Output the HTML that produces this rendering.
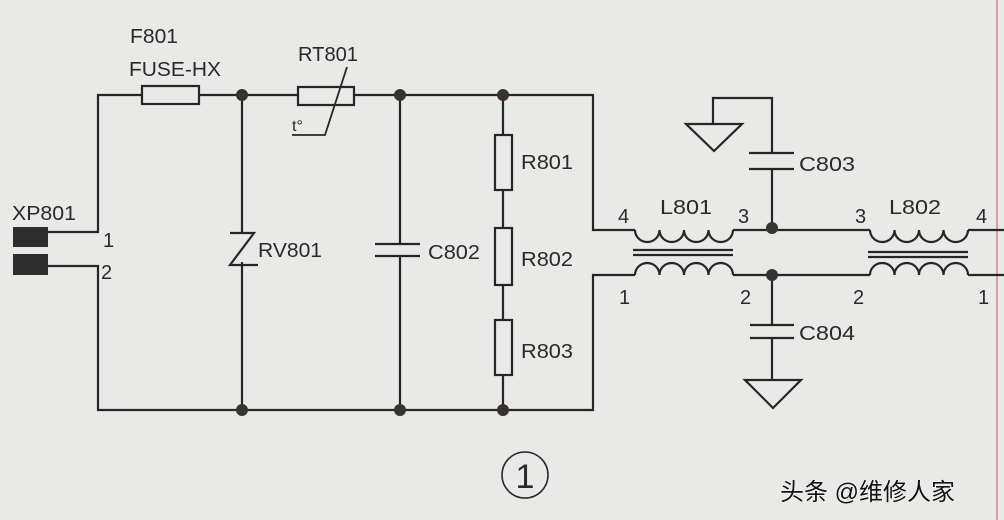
<!DOCTYPE html>
<html><head><meta charset="utf-8"><style>
html,body{margin:0;padding:0;background:#e9e9e7;}
svg{display:block}
text{font-family:"Liberation Sans","Noto Sans CJK SC",sans-serif;fill:#2a2a2a}
</style></head><body>
<svg width="1004" height="520" viewBox="0 0 1004 520" xmlns="http://www.w3.org/2000/svg">
<rect width="1004" height="520" fill="#e9e9e7"/>
<line x1="997" y1="0" x2="997" y2="520" stroke="#d9a0a0" stroke-width="2"/>
<g stroke="#262626" stroke-width="2.2" fill="none">
<polyline points="48,232 98,232 98,95 593,95 593,230 635,230"/>
<polyline points="48,266 98,266 98,410 593,410 593,275 635,275"/>
<rect x="142" y="86" width="57" height="18" fill="#e9e9e7"/>
<rect x="298" y="87" width="56" height="18" fill="#e9e9e7"/>
<polyline points="347,67 325,135 292,135" stroke-width="1.8"/>
<line x1="242" y1="95" x2="242" y2="233"/>
<line x1="242" y1="262" x2="242" y2="410"/>
<polyline points="230,233 254,233 230,265 258,265"/>
<line x1="400" y1="95" x2="400" y2="244"/>
<line x1="400" y1="256" x2="400" y2="410"/>
<line x1="375" y1="244" x2="420" y2="244"/>
<line x1="375" y1="256" x2="420" y2="256"/>
<line x1="503" y1="95" x2="503" y2="410"/>
<rect x="495" y="135" width="17" height="55" fill="#e9e9e7"/>
<rect x="495" y="228" width="17" height="57" fill="#e9e9e7"/>
<rect x="495" y="320" width="17" height="55" fill="#e9e9e7"/>
<path d="M635,230 a12.25,12 0 0 0 24.5,0 a12.25,12 0 0 0 24.5,0 a12.25,12 0 0 0 24.5,0 a12.25,12 0 0 0 24.5,0"/>
<path d="M635,275 a12.25,12 0 0 1 24.5,0 a12.25,12 0 0 1 24.5,0 a12.25,12 0 0 1 24.5,0 a12.25,12 0 0 1 24.5,0"/>
<line x1="633" y1="250" x2="733" y2="250"/>
<line x1="633" y1="255" x2="733" y2="255"/>
<line x1="733" y1="230" x2="870" y2="230"/>
<line x1="733" y1="275" x2="870" y2="275"/>
<path d="M870,230 a12.25,12 0 0 0 24.5,0 a12.25,12 0 0 0 24.5,0 a12.25,12 0 0 0 24.5,0 a12.25,12 0 0 0 24.5,0"/>
<path d="M870,275 a12.25,12 0 0 1 24.5,0 a12.25,12 0 0 1 24.5,0 a12.25,12 0 0 1 24.5,0 a12.25,12 0 0 1 24.5,0"/>
<line x1="868" y1="252" x2="968" y2="252"/>
<line x1="868" y1="257" x2="968" y2="257"/>
<line x1="968" y1="230" x2="1004" y2="230"/>
<line x1="968" y1="275" x2="1004" y2="275"/>
<polyline points="772,230 772,169"/>
<polyline points="772,153 772,98 713,98 713,124"/>
<line x1="749" y1="153" x2="794" y2="153"/>
<line x1="749" y1="169" x2="794" y2="169"/>
<polygon points="686,124 742,124 714,151"/>
<line x1="772" y1="275" x2="772" y2="325"/>
<line x1="772" y1="338" x2="772" y2="380"/>
<line x1="750" y1="325" x2="794" y2="325"/>
<line x1="750" y1="338" x2="794" y2="338"/>
<polygon points="745,380 801,380 773,408"/>
</g>
<g fill="#3a3232">
<circle cx="242" cy="95" r="6"/><circle cx="400" cy="95" r="6"/><circle cx="503" cy="95" r="6"/>
<circle cx="242" cy="410" r="6"/><circle cx="400" cy="410" r="6"/><circle cx="503" cy="410" r="6"/>
<circle cx="772" cy="228" r="6"/><circle cx="772" cy="275" r="6"/>
</g>
<rect x="13" y="227" width="35" height="20" fill="#2e2e2e"/>
<rect x="13" y="254" width="35" height="21" fill="#2e2e2e"/>
<g font-size="20" lengthAdjust="spacingAndGlyphs">
<text x="130" y="43" textLength="48" lengthAdjust="spacingAndGlyphs">F801</text>
<text x="129" y="76" textLength="92" lengthAdjust="spacingAndGlyphs">FUSE-HX</text>
<text x="298" y="61" textLength="60" lengthAdjust="spacingAndGlyphs">RT801</text>
<text x="292" y="131" font-size="16">t°</text>
<text x="12" y="220" textLength="64" lengthAdjust="spacingAndGlyphs">XP801</text>
<text x="103" y="247">1</text>
<text x="101" y="279">2</text>
<text x="258" y="257" textLength="64" lengthAdjust="spacingAndGlyphs">RV801</text>
<text x="428" y="259" textLength="52" lengthAdjust="spacingAndGlyphs">C802</text>
<text x="521" y="169" textLength="52" lengthAdjust="spacingAndGlyphs">R801</text>
<text x="521" y="266" textLength="52" lengthAdjust="spacingAndGlyphs">R802</text>
<text x="521" y="358" textLength="52" lengthAdjust="spacingAndGlyphs">R803</text>
<text x="799" y="171" textLength="56" lengthAdjust="spacingAndGlyphs">C803</text>
<text x="799" y="340" textLength="56" lengthAdjust="spacingAndGlyphs">C804</text>
<text x="660" y="214" textLength="52" lengthAdjust="spacingAndGlyphs">L801</text>
<text x="889" y="214" textLength="52" lengthAdjust="spacingAndGlyphs">L802</text>
<text x="618" y="223">4</text>
<text x="738" y="223">3</text>
<text x="855" y="223">3</text>
<text x="976" y="223">4</text>
<text x="619" y="304">1</text>
<text x="740" y="304">2</text>
<text x="853" y="304">2</text>
<text x="978" y="304">1</text>
</g>
<circle cx="525" cy="475" r="23" fill="none" stroke="#2a2a2a" stroke-width="1.6"/>
<text x="525" y="488" font-size="34" text-anchor="middle" font-family="Liberation Serif,serif">1</text>
<text x="780" y="500" font-size="24" style="fill:#111;stroke:#fff;stroke-width:0.8;paint-order:stroke">头条 @维修人家</text>
</svg>
</body></html>
